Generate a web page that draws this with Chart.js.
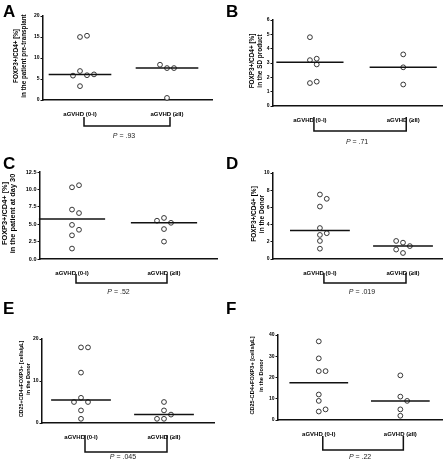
<!DOCTYPE html>
<html>
<head>
<meta charset="utf-8">
<script src="https://cdn.jsdelivr.net/npm/chart.js@4.4.1/dist/chart.umd.min.js"></script>
<style>
body { margin: 0; background: #fff; }
#wrap { position: relative; width: 447px; height: 465px; font-family: "Liberation Sans", Arial, sans-serif; }
.panel { position: absolute; width: 223px; height: 155px; }
.letter { position: absolute; font-weight: bold; font-size: 17px; line-height: 17px; color: #000; }
</style>
</head>
<body>
<div id="wrap"></div>
<script>
var groupLabels = ['aGVHD (0-I)', 'aGVHD (\u2265II)'];
var panelLetters = ['A', 'B', 'C', 'D', 'E', 'F'];

// values, per panel: low grade (0-I) and high grade (>=II)
var lowA = [15.0, 15.3, 6.9, 5.9, 5.8, 6.1, 3.3];
var highA = [7.6, 7.6, 8.4, 0.5];
var lowB = [4.8, 3.2, 3.3, 2.9, 1.6, 1.7];
var highB = [3.6, 2.7, 1.5];
var lowC = [10.3, 10.6, 7.1, 6.6, 4.9, 4.2, 3.4, 1.5];
var highC = [5.9, 5.2, 5.5, 4.3, 2.5];
var lowD = [7.5, 7.0, 6.1, 3.6, 2.8, 3.0, 2.1, 1.2];
var highD = [1.9, 1.5, 2.1, 0.7, 1.1];
var lowE = [18, 18, 12, 6, 5, 5, 3, 1];
var highE = [5, 3, 2, 1, 1];
var lowF = [37, 29, 23, 23, 12, 9, 4, 5];
var highF = [21, 11, 9, 5, 2];

var pValues = ['.93', '.71', '.52', '.019', '.045', '.22'];
var yMax = [20, 6, 12.5, 10, 20, 40];
var yStep = [5, 1, 2.5, 2, 10, 10];
var yDecimals = [0, 0, 1, 0, 0, 0];
var titleTop = ['FOXP3+/CD4+ [%]', 'FOXP3+/CD4+ [%]', 'FOXP3+/CD4+ [%]', 'FOXP3+/CD4+ [%]',
    'CD25+CD4+FOXP3+ [cells/\u00b5L]', 'CD25-CD4+FOXP3+ [cells/\u00b5L]'];
var titleBottom = ['in the patient pre-transplant', 'in the SD product', 'in the patient at day 30',
    'in the Donor', 'in the Donor', 'in the Donor'];

var lowSets = [lowA, lowB, lowC, lowD, lowE, lowF];
var highSets = [highA, highB, highC, highD, highE, highF];

// panel geometry (pixels inside each 223x155 panel)
var layouts = [
    {x: 0,   y: 0,   left: 43, right: 212, top: 16, bottom: 100, c1: 80, c2: 167, tx: [16, 24], tSize: 6.3, tickSize: 5,   brTop: 117, brBot: 126, pY: 136},
    {x: 224, y: 0,   left: 49, right: 223, top: 20, bottom: 106, c1: 87, c2: 183, tx: [28, 36], tSize: 6.4, tickSize: 5,   brTop: 117, brBot: 131, pY: 142},
    {x: 0,   y: 155, left: 40, right: 217, top: 17, bottom: 104, c1: 72, c2: 164, tx: [5, 13],  tSize: 7.4, tickSize: 5.5, brTop: 119, brBot: 128, pY: 137},
    {x: 224, y: 155, left: 49, right: 222, top: 18, bottom: 104, c1: 97, c2: 182, tx: [30, 38], tSize: 6.5, tickSize: 5,   brTop: 118, brBot: 128, pY: 137},
    {x: 0,   y: 310, left: 42, right: 214, top: 29, bottom: 113, c1: 81, c2: 164, tx: [22, 29], tSize: 5.4, tickSize: 5,   brTop: 125, brBot: 142, pY: 147},
    {x: 224, y: 310, left: 54, right: 223, top: 25, bottom: 110, c1: 96, c2: 180, tx: [28, 37], tSize: 5.6, tickSize: 5,   brTop: 126, brBot: 140, pY: 147}
];
var letterPos = [[3, 3], [226, 3], [3, 155], [226, 155], [3, 300], [226, 300]];

function median(arr) {
    var s = arr.slice().sort(function(a, b) { return a - b; });
    var m = Math.floor(s.length / 2);
    return s.length % 2 ? s[m] : (s[m - 1] + s[m]) / 2;
}

// simple beeswarm: spread points that would overlap
function swarm(values, center, near, step) {
    var placed = [];
    return values.map(function(v) {
        var offsets = [0, 1, -1, 2, -2, 3, -3];
        for (var k = 0; k < offsets.length; k++) {
            var dx = offsets[k] * step;
            var clash = placed.some(function(p) {
                return Math.abs(p.y - v) < near && Math.abs(p.dx - dx) < step * 0.9;
            });
            if (!clash) {
                placed.push({y: v, dx: dx});
                return {x: center + dx, y: v};
            }
        }
        return {x: center, y: v};
    });
}

var FONT = '"Liberation Sans", Arial, sans-serif';

var annotPlugin = {
    id: 'annot',
    afterDraw: function(chart, args, opts) {
        var ctx = chart.ctx;
        var xs = chart.scales.x;
        var area = chart.chartArea;
        ctx.save();

        // y axis title, two rotated lines
        ctx.fillStyle = '#000';
        ctx.font = 'bold ' + opts.tSize + 'px ' + FONT;
        ctx.textAlign = 'center';
        ctx.textBaseline = 'middle';
        var cy = (area.top + area.bottom) / 2 - 2;
        opts.lines.forEach(function(line, k) {
            ctx.save();
            ctx.translate(opts.tx[k], cy);
            ctx.rotate(-Math.PI / 2);
            ctx.fillText(line, 0, 0);
            ctx.restore();
        });

        // bracket under the groups
        var x1 = xs.getPixelForValue(1) + 4;
        var x2 = xs.getPixelForValue(2) + 3;
        ctx.strokeStyle = '#111';
        ctx.lineWidth = 1.5;
        ctx.beginPath();
        ctx.moveTo(x1, opts.top);
        ctx.lineTo(x1, opts.bot);
        ctx.lineTo(x2, opts.bot);
        ctx.lineTo(x2, opts.top);
        ctx.stroke();

        // P value
        var fontP = 'italic 7px ' + FONT;
        var fontR = '7px ' + FONT;
        var rest = ' = ' + opts.p;
        ctx.font = fontP;
        var wP = ctx.measureText('P').width;
        ctx.font = fontR;
        var wR = ctx.measureText(rest).width;
        var sx = (x1 + x2) / 2 - 3 - (wP + wR) / 2;
        ctx.fillStyle = '#222';
        ctx.textAlign = 'left';
        ctx.font = fontP;
        ctx.fillText('P', sx, opts.y);
        ctx.font = fontR;
        ctx.fillText(rest, sx + wP, opts.y);
        ctx.restore();
    }
};

var wrap = document.getElementById('wrap');

layouts.forEach(function(L, i) {
    var div = document.createElement('div');
    div.className = 'panel';
    div.style.left = L.x + 'px';
    div.style.top = L.y + 'px';
    var canvas = document.createElement('canvas');
    canvas.width = 223;
    canvas.height = 155;
    div.appendChild(canvas);
    wrap.appendChild(div);

    var letter = document.createElement('div');
    letter.className = 'letter';
    letter.style.left = letterPos[i][0] + 'px';
    letter.style.top = letterPos[i][1] + 'px';
    letter.textContent = panelLetters[i];
    wrap.appendChild(letter);

    var unit = L.c2 - L.c1;
    var xMin = 1 - (L.c1 - L.left) / unit;
    var xMax = 2 + (L.right - L.c2) / unit;
    var near = yMax[i] * 5.5 / (L.bottom - L.top);
    var step = 7 / unit;

    var low = lowSets[i], high = highSets[i];
    var mLow = median(low), mHigh = median(high);

    var pointStyle = {
        type: 'scatter',
        pointRadius: 2.4,
        pointBorderWidth: 0.9,
        pointBorderColor: '#222',
        pointBackgroundColor: '#fff',
        showLine: false
    };

    new Chart(canvas.getContext('2d'), {
        type: 'scatter',
        data: {
            datasets: [
                {type: 'line', data: [{x: 1 - 0.36, y: mLow}, {x: 1 + 0.36, y: mLow}], borderColor: '#111', borderWidth: 1.5, pointRadius: 0, fill: false},
                {type: 'line', data: [{x: 2 - 0.36, y: mHigh}, {x: 2 + 0.36, y: mHigh}], borderColor: '#111', borderWidth: 1.5, pointRadius: 0, fill: false},
                Object.assign({data: swarm(low, 1, near, step)}, pointStyle),
                Object.assign({data: swarm(high, 2, near, step)}, pointStyle)
            ]
        },
        options: {
            responsive: false,
            animation: false,
            devicePixelRatio: 1,
            clip: false,
            layout: {padding: {left: 0, top: L.top, right: 223 - L.right, bottom: 0}},
            plugins: {
                legend: {display: false},
                tooltip: {enabled: false},
                annot: {
                    top: L.brTop, bot: L.brBot, y: L.pY, p: pValues[i],
                    lines: [titleTop[i], titleBottom[i]], tx: L.tx, tSize: L.tSize
                }
            },
            scales: {
                x: {
                    type: 'linear',
                    min: xMin,
                    max: xMax,
                    grid: {display: false},
                    border: {display: true, color: '#111', width: 1.5},
                    afterBuildTicks: function(s) { s.ticks = [{value: 1}, {value: 2}]; },
                    afterFit: function(s) { s.height = 155 - L.bottom; },
                    ticks: {
                        autoSkip: false,
                        maxRotation: 0,
                        padding: 3,
                        color: '#000',
                        font: {family: FONT, size: 6, weight: 'bold'},
                        callback: function(v) { return groupLabels[v - 1]; }
                    }
                },
                y: {
                    min: 0,
                    max: yMax[i],
                    grid: {display: true, drawOnChartArea: false, drawTicks: true, tickLength: 2.5, color: '#111', lineWidth: 1},
                    border: {display: true, color: '#111', width: 1.5},
                    afterFit: function(s) { s.width = L.left; },
                    ticks: {
                        stepSize: yStep[i],
                        padding: 1,
                        color: '#000',
                        font: {family: FONT, size: L.tickSize, weight: 'bold'},
                        callback: function(v) { return v.toFixed(yDecimals[i]); }
                    }
                }
            }
        },
        plugins: [annotPlugin]
    });
});
</script>
</body>
</html>
